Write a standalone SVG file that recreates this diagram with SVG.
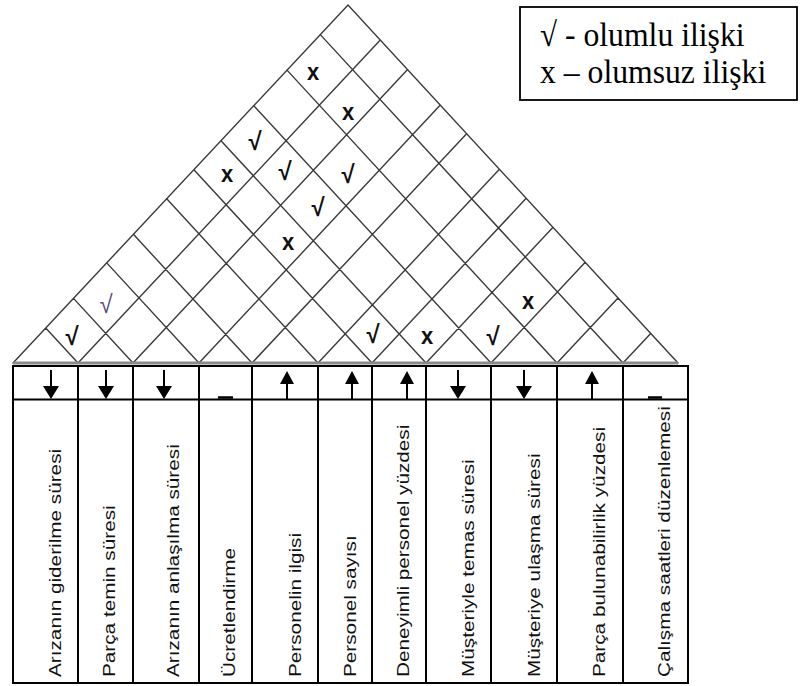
<svg xmlns="http://www.w3.org/2000/svg" width="801" height="686" viewBox="0 0 801 686">
<style>
.grid{stroke:#3a3a3a;stroke-width:1.4;fill:none;stroke-linecap:round}
.tbl{stroke:#000;stroke-width:2;fill:none}
.lbl{font-family:"Liberation Sans",Arial,sans-serif;font-size:17px;fill:#111}
.mk{font-family:"Liberation Sans",Arial,sans-serif;font-weight:bold;fill:#111;text-anchor:middle}
.mx{font-size:22px}
.mv{font-size:24px}
.thin{font-weight:normal;fill:#5a4f7a}
.leg{font-family:"Liberation Serif","Times New Roman",serif;font-size:31.7px;fill:#000}
.dash{stroke:#000;stroke-width:2.5}
</style>
<defs>
<g id="down"><line x1="0" y1="370" x2="0" y2="388" stroke="#000" stroke-width="2"/><polygon points="-8,386 8,386 0,399" fill="#000"/></g>
<g id="up"><polygon points="0,371 -7,384 7,384" fill="#000"/><line x1="0" y1="383" x2="0" y2="399" stroke="#000" stroke-width="2"/></g>
</defs>
<rect width="801" height="686" fill="#fff"/>

<g id="roof">
<path class="grid" d="M13,363 L348,5 L678,363
M78,363 L380.3,40 M78,363 L45.7,328
M133,363 L407.6,69.6 M133,363 L73.5,298.4
M199,363 L440.3,105.1 M199,363 L106.7,262.9
M252,363 L466.6,133.7 M252,363 L133.4,234.3
M318,363 L499.4,169.2 M318,363 L166.7,198.8
M372,363 L526.2,198.3 M372,363 L193.9,169.7
M426,363 L553,227.3 M426,363 L221,140.7
M491,363 L585.2,262.3 M491,363 L253.8,105.7
M557,363 L618,297.9 M557,363 L287,70.1
M623,363 L650.7,333.4 M623,363 L320.3,34.6"/>
<line x1="13" y1="363" x2="678" y2="363" stroke="#8a8a8a" stroke-width="3"/>
</g>

<g id="marks">
<text class="mk mv" transform="translate(72,345) scale(1,1.05)">√</text>
<text class="mk mv thin" transform="translate(106,313) scale(1,1.05)">√</text>
<text class="mk mx" transform="translate(227,182) scale(1,1.1)">x</text>
<text class="mk mv" transform="translate(255,150) scale(1,1.05)">√</text>
<text class="mk mx" transform="translate(313,80) scale(1,1.1)">x</text>
<text class="mk mv" transform="translate(285,180) scale(1,1.05)">√</text>
<text class="mk mx" transform="translate(348,120) scale(1,1.1)">x</text>
<text class="mk mx" transform="translate(288,250) scale(1,1.1)">x</text>
<text class="mk mv" transform="translate(318,216) scale(1,1.05)">√</text>
<text class="mk mv" transform="translate(348,183) scale(1,1.05)">√</text>
<text class="mk mv" transform="translate(373,343) scale(1,1.05)">√</text>
<text class="mk mx" transform="translate(427,344) scale(1,1.1)">x</text>
<text class="mk mv" transform="translate(493,345) scale(1,1.05)">√</text>
<text class="mk mx" transform="translate(528,309) scale(1,1.1)">x</text>
</g>

<g id="table">
<rect class="tbl" x="13" y="366" width="675" height="317"/>
<line class="tbl" x1="13" y1="399.5" x2="688" y2="399.5"/>
<path class="tbl" d="M78,366V683 M133,366V683 M199,366V683 M252,366V683 M318,366V683 M372,366V683 M426,366V683 M491,366V683 M557,366V683 M623,366V683"/>
</g>

<g id="col1"><use href="#down" x="51"/><text class="lbl" transform="translate(61,677) rotate(-90) scale(1.22,1)">Arızanın giderilme süresi</text></g>
<g id="col2"><use href="#down" x="106"/><text class="lbl" transform="translate(115,677) rotate(-90) scale(1.22,1)">Parça temin süresi</text></g>
<g id="col3"><use href="#down" x="164"/><text class="lbl" transform="translate(179,677) rotate(-90) scale(1.22,1)">Arızanın anlaşılma süresi</text></g>
<g id="col4"><line class="dash" x1="218" y1="397.5" x2="233" y2="397.5"/><text class="lbl" transform="translate(235,677) rotate(-90) scale(1.22,1)">Ücretlendirme</text></g>
<g id="col5"><use href="#up" x="287"/><text class="lbl" transform="translate(301,677) rotate(-90) scale(1.22,1)">Personelin ilgisi</text></g>
<g id="col6"><use href="#up" x="352"/><text class="lbl" transform="translate(356,677) rotate(-90) scale(1.22,1)">Personel sayısı</text></g>
<g id="col7"><use href="#up" x="407"/><text class="lbl" transform="translate(409,677) rotate(-90) scale(1.22,1)">Deneyimli personel yüzdesi</text></g>
<g id="col8"><use href="#down" x="458"/><text class="lbl" transform="translate(474,677) rotate(-90) scale(1.22,1)">Müşteriyle temas süresi</text></g>
<g id="col9"><use href="#down" x="524"/><text class="lbl" transform="translate(540,677) rotate(-90) scale(1.22,1)">Müşteriye ulaşma süresi</text></g>
<g id="col10"><use href="#up" x="592"/><text class="lbl" transform="translate(605,677) rotate(-90) scale(1.22,1)">Parça bulunabilirlik yüzdesi</text></g>
<g id="col11"><line class="dash" x1="648" y1="397.5" x2="662" y2="397.5"/><text class="lbl" transform="translate(670,677) rotate(-90) scale(1.22,1)">Çalışma saatleri düzenlemesi</text></g>

<g id="legend">
<rect x="520" y="7" width="277" height="93" fill="#fff" stroke="#000" stroke-width="1.8"/>
<text class="leg" transform="translate(540,46) scale(1,1.08)"><tspan x="0" textLength="17" lengthAdjust="spacingAndGlyphs">√</tspan><tspan x="25">- olumlu ilişki</tspan></text>
<text class="leg" transform="translate(540,83) scale(1,1.08)">x – olumsuz ilişki</text>
</g>
</svg>
